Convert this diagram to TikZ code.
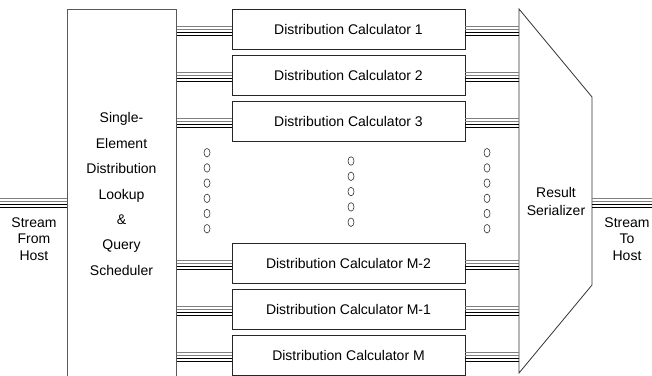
\documentclass[tikz,border=0pt]{standalone}
\usepackage{fontspec}
\setmainfont{Liberation Sans}
\usetikzlibrary{shapes.geometric}
\begin{document}
\begin{tikzpicture}[x=1pt,y=-1pt,
  outline/.style={draw=black!80, line width=0.8pt},
  block/.style={draw=black!65, line width=1pt, inner sep=0pt},
  calcbox/.style={draw=black!85, line width=0.8pt, minimum width=233pt,
    minimum height=40pt, inner sep=0pt, font=\fontsize{14}{16}\selectfont},
  wireg/.style={draw=black!50, line width=0.8pt},
  wirek/.style={draw=black, line width=0.7pt},
  wirekk/.style={draw=black, line width=1.2pt},
  label/.style={align=center, inner sep=0pt},
  dot/.style={draw=black!80, line width=0.6pt, ellipse, minimum width=6pt,
    minimum height=8.5pt, inner sep=0pt}
]
\useasboundingbox (0,0) rectangle (652,375);
\clip (0,0) rectangle (652,375);

% bundle of four wires between two points
\newcommand\wirebundle[2]{%
  \draw[wireg]  ([yshift=3pt]#1)   -- ([yshift=3pt]#2);
  \draw[wireg]  (#1)               -- (#2);
  \draw[wirek]  ([yshift=-3pt]#1)  -- ([yshift=-3pt]#2);
  \draw[wirekk] ([yshift=-6.5pt]#1) -- ([yshift=-6.5pt]#2);}

% lookup / scheduler block (runs past the lower edge)
\node[block, anchor=north west, minimum width=109pt, minimum height=391pt] (lb) at (67,9) {};
\node[label, font=\fontsize{14}{25.4}\selectfont] (lbtext) at (121.5,194)
  {Single-\\Element\\Distribution\\Lookup\\\&\\Query\\Scheduler};

% distribution calculators
\node[calcbox] (c1) at (348.5,29)  {Distribution Calculator 1};
\node[calcbox] (c2) at (348.5,75)  {Distribution Calculator 2};
\node[calcbox] (c3) at (348.5,121) {Distribution Calculator 3};
\node[calcbox] (c4) at (348.5,263) {Distribution Calculator M-2};
\node[calcbox] (c5) at (348.5,309) {Distribution Calculator M-1};
\node[calcbox] (c6) at (348.5,355) {Distribution Calculator M};

% result serializer
\coordinate (stl) at (519,9);
\coordinate (str) at (592,97);
\coordinate (sbr) at (592,285);
\coordinate (sbl) at (519,373);
\draw[outline] (stl) -- (str) -- (sbr) -- (sbl) -- cycle;
\node[label, font=\fontsize{14}{18.5}\selectfont] (sertext) at (556,201.5) {Result\\Serializer};

% wires from the scheduler to the calculators and on to the serializer
\foreach \i in {1,...,6}{
  \coordinate (a\i) at (c\i.west -| lb.east);
  \coordinate (b\i) at (c\i.east -| stl);
  \wirebundle{a\i}{c\i.west}
  \wirebundle{c\i.east}{b\i}
}

% host streams
\coordinate (inA) at (0,201);
\coordinate (inB) at (lb.west |- inA);
\coordinate (outA) at (str |- inA);
\coordinate (outB) at (652,201);
\wirebundle{inA}{inB}
\wirebundle{outA}{outB}
\node[label, font=\fontsize{14}{16.5}\selectfont] (intext) at (34,239) {Stream\\From\\Host};
\node[label, font=\fontsize{14}{16.5}\selectfont] (outtext) at (627,239) {Stream\\To\\Host};

% ellipsis marks between calculators
\foreach \k in {0,...,5}{
  \node[dot] (dl\k) at (207,152.7+15.2*\k) {};
  \node[dot] (dr\k) at (487,152.7+15.2*\k) {};
}
\foreach \k in {0,...,4}{
  \node[dot] (dm\k) at (351,161+15.3*\k) {};
}
\end{tikzpicture}
\end{document}
